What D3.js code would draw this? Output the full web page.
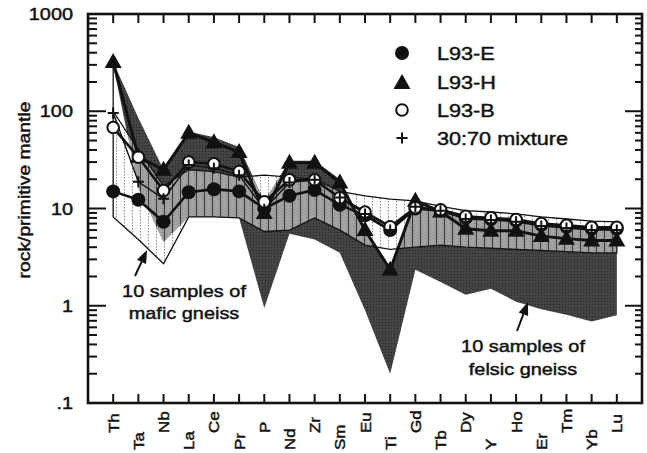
<!DOCTYPE html>
<html><head><meta charset="utf-8">
<script src="https://cdn.jsdelivr.net/npm/d3@7"></script>
<style>
body{margin:0;background:#fff}
svg{display:block}
text{font-family:"Liberation Sans",Arial,Helvetica,sans-serif;fill:#111;stroke:#111;stroke-width:0.45}
</style>
</head><body>
<svg id="c" width="647" height="453"></svg>
<script>
// ---------- data ----------
const categories = ["Th","Ta","Nb","La","Ce","Pr","P","Nd","Zr","Sm","Eu","Ti","Gd","Tb","Dy","Y","Ho","Er","Tm","Yb","Lu"];
const L93E    = [15, 12.3, 7.3, 14.7, 15.8, 15, 10, 13.5, 15.5, 10.9, 8.5, 6.0, 10, 9.5, 8.0, 7.8, 7.5, 6.8, 6.5, 6.2, 6.2];
const L93H    = [320, 34, 25, 60, 48, 38, 9, 29.5, 29.5, 18.5, 6.0, 2.35, 12, 9.3, 6.2, 5.9, 5.9, 5.2, 4.9, 4.7, 4.7];
const L93B    = [68, 33.7, 15.3, 30, 28.8, 24, 11.7, 19.7, 19.7, 12.9, 9.2, 6.5, 10.2, 9.7, 8.3, 8.0, 7.7, 7.0, 6.7, 6.4, 6.4];
const mixture = [96, 18.8, 12.6, 28, 26, 22, 9.8, 18.5, 19.7, 13.0, 8.8, 6.0, 10.4, 9.5, 7.8, 7.6, 7.3, 6.6, 6.3, 6.0, 6.0];
const felsicHi = [320, 85, 25, 62, 54, 43, 12, 31, 31, 20, 5.8, 2.35, 11, 9.5, 8.0, 7.8, 7.5, 6.8, 6.5, 6.2, 6.2];
const felsicLo = [300, 16, 4.5, 8.2, 8.2, 8.0, 0.95, 5.5, 4.8, 3.5, 0.9, 0.2, 2.35, 1.75, 1.3, 1.5, 1.1, 0.92, 0.81, 0.69, 0.8];
const maficHi  = [100, 40, 17, 25, 24, 21, 22, 21, 20, 15, 13.5, 12.5, 12, 10.5, 9.5, 9.2, 8.8, 8.2, 7.8, 7.4, 7.3];
const maficLo  = [8.2, 4.8, 2.7, 8.2, 8.2, 8.0, 5.8, 6.0, 8.0, 6.0, 4.2, 3.8, 4.0, 4.2, 4.0, 3.9, 3.8, 3.7, 3.6, 3.5, 3.5];
const yTickValues = [1000, 100, 10, 1, 0.1];
const yTickLabels = ["1000", "100", "10", "1", ".1"];
const legendLabels = ["L93-E", "L93-H", "L93-B", "30:70 mixture"];
const yTitle = "rock/primitive mantle";
const maficNote = ["10 samples of", "mafic gneiss"];
const felsicNote = ["10 samples of", "felsic gneiss"];

// ---------- setup ----------
const svg = d3.select("#c");
const L = 88, R = 642, T = 14, B = 403;
const x = d3.scalePoint().domain(categories).range([L, R]).padding(1);
const y = d3.scaleLog().domain([0.1, 1000]).range([B, T]);
const SX = 1.17;

svg.append("rect").attr("width", 647).attr("height", 453).attr("fill", "#fff");

const defs = svg.append("defs");
const pd = defs.append("pattern").attr("id", "dark").attr("patternUnits", "userSpaceOnUse").attr("width", 3).attr("height", 3);
pd.append("rect").attr("width", 3).attr("height", 3).attr("fill", "#444");
pd.append("rect").attr("x", 1).attr("y", 1).attr("width", 1).attr("height", 1).attr("fill", "#222");
const pg = defs.append("pattern").attr("id", "grey").attr("patternUnits", "userSpaceOnUse").attr("width", 8).attr("height", 3);
pg.append("rect").attr("width", 8).attr("height", 3).attr("fill", "#a3a3a3");
pg.append("rect").attr("x", 2).attr("y", 1).attr("width", 1).attr("height", 1).attr("fill", "#777");
pg.append("rect").attr("x", 6).attr("y", 2).attr("width", 1).attr("height", 1).attr("fill", "#888");
pg.append("line").attr("x1", 4.5).attr("x2", 4.5).attr("y1", 0).attr("y2", 3).attr("stroke", "#333").attr("stroke-width", 1);
const pw = defs.append("pattern").attr("id", "hatch").attr("patternUnits", "userSpaceOnUse").attr("width", 8).attr("height", 3);
pw.append("rect").attr("width", 8).attr("height", 3).attr("fill", "#fff");
pw.append("line").attr("x1", 4.5).attr("x2", 4.5).attr("y1", 0).attr("y2", 1.5).attr("stroke", "#888").attr("stroke-width", 1);

const idx = d3.range(categories.length);
const areaOf = (hi, lo) => d3.area().x(i => x(categories[i])).y0(i => y(lo[i])).y1(i => y(hi[i]));
const felsicPath = areaOf(felsicHi, felsicLo)(idx);
const maficPath = areaOf(maficHi, maficLo)(idx);
defs.append("clipPath").attr("id", "felsicClip").append("path").attr("d", felsicPath);

const g = svg.append("g");
g.append("path").attr("d", felsicPath).attr("fill", "url(#dark)");
g.append("path").attr("d", maficPath).attr("fill", "url(#hatch)");
g.append("path").attr("d", maficPath).attr("fill", "url(#grey)").attr("clip-path", "url(#felsicClip)");
g.append("path").attr("d", maficPath).attr("fill", "none").attr("stroke", "#111").attr("stroke-width", 1.3);
// vertical edge at Th from the L93-H point down to the mafic field top
g.append("line").attr("x1", x(categories[0])).attr("x2", x(categories[0]))
  .attr("y1", y(L93H[0])).attr("y2", y(maficHi[0])).attr("stroke", "#111").attr("stroke-width", 1.3);

// ---------- series lines ----------
const lineOf = d3.line().x(d => x(d.c)).y(d => y(d.v));
const pts = arr => arr.map((v, i) => ({c: categories[i], v}));
g.append("path").attr("d", lineOf(pts(mixture))).attr("fill", "none").attr("stroke", "#111").attr("stroke-width", 1.4);
g.append("path").attr("d", lineOf(pts(L93B))).attr("fill", "none").attr("stroke", "#111").attr("stroke-width", 2.6);
g.append("path").attr("d", lineOf(pts(L93E))).attr("fill", "none").attr("stroke", "#111").attr("stroke-width", 2.6);
g.append("path").attr("d", lineOf(pts(L93H))).attr("fill", "none").attr("stroke", "#111").attr("stroke-width", 3);

// ---------- markers ----------
const tri = (cx, cy) => `M${cx},${cy - 9}L${cx + 8.5},${cy + 6}L${cx - 8.5},${cy + 6}Z`;
function triangle(sel, cx, cy) { sel.append("path").attr("d", tri(cx, cy)).attr("fill", "#111"); }
function filled(sel, cx, cy) { sel.append("circle").attr("cx", cx).attr("cy", cy).attr("r", 7).attr("fill", "#111"); }
function open(sel, cx, cy) { sel.append("circle").attr("cx", cx).attr("cy", cy).attr("r", 5.8).attr("fill", "#fff").attr("stroke", "#111").attr("stroke-width", 2); }
function plus(sel, cx, cy) {
  sel.append("path").attr("d", `M${cx - 5.5},${cy}H${cx + 5.5}M${cx},${cy - 5.5}V${cy + 5.5}`).attr("stroke", "#111").attr("stroke-width", 2).attr("fill", "none");
}
const mk = svg.append("g");
L93H.forEach((v, i) => triangle(mk, x(categories[i]), y(v)));
L93E.forEach((v, i) => filled(mk, x(categories[i]), y(v)));
L93B.forEach((v, i) => open(mk, x(categories[i]), y(v)));
mixture.forEach((v, i) => plus(mk, x(categories[i]), y(v)));

// ---------- frame & ticks ----------
const ax = svg.append("g").attr("stroke", "#111").attr("fill", "none");
ax.append("rect").attr("x", L).attr("y", T).attr("width", R - L).attr("height", B - T).attr("stroke-width", 2.6);
categories.forEach(c => {
  ax.append("line").attr("x1", x(c)).attr("x2", x(c)).attr("y1", T).attr("y2", T + 9).attr("stroke-width", 2);
  ax.append("line").attr("x1", x(c)).attr("x2", x(c)).attr("y1", B).attr("y2", B - 9).attr("stroke-width", 2);
});
y.ticks().forEach(t => {
  const major = Math.abs(Math.log10(t) - Math.round(Math.log10(t))) < 1e-6;
  const yy = y(t);
  ax.append("line").attr("x1", L).attr("x2", L + (major ? 18 : 9)).attr("y1", yy).attr("y2", yy).attr("stroke-width", 2);
  ax.append("line").attr("x1", R).attr("x2", R - (major ? 17 : 7)).attr("y1", yy).attr("y2", yy).attr("stroke-width", 2);
});

// ---------- text helper ----------
function txt(s, px, py, size, anchor, rot, sx) {
  const gg = svg.append("g").attr("transform", `translate(${px},${py}) rotate(${rot || 0}) scale(${sx || SX},1)`);
  gg.append("text").attr("text-anchor", anchor || "start").attr("font-size", size).text(s);
}
yTickValues.forEach((v, i) => txt(yTickLabels[i], 73, y(v) + 6, 17, "end"));
categories.forEach((c, i) => {
  const bottom = i % 2 === 0 ? 433 : 450;
  txt(c, x(c) + 5.5, bottom, 15, "start", -90, 1.13);
});
txt(yTitle, 30, 190, 16.5, "middle", -90);

// ---------- legend ----------
const lg = svg.append("g");
const lx = 402, ly = [53, 82, 110, 138];
filled(lg, lx, ly[0]);
triangle(lg, lx, ly[1] + 1);
open(lg, lx, ly[2]);
plus(lg, lx, ly[3]);
legendLabels.forEach((s, i) => txt(s, 437, ly[i] + 7, 18.5, "start"));

// ---------- annotations ----------
maficNote.forEach((s, i) => txt(s, 184, 297 + i * 22, 17, "middle"));
felsicNote.forEach((s, i) => txt(s, 523, 352 + i * 23, 17, "middle"));
function arrow(x1, y1, x2, y2) {
  const a = Math.atan2(y2 - y1, x2 - x1), len = 13, w = 5;
  const bx = x2 - len * Math.cos(a), by = y2 - len * Math.sin(a);
  svg.append("line").attr("x1", x1).attr("y1", y1).attr("x2", bx).attr("y2", by).attr("stroke", "#111").attr("stroke-width", 2);
  svg.append("path").attr("d", `M${x2},${y2}L${bx + w * Math.sin(a)},${by - w * Math.cos(a)}L${bx - w * Math.sin(a)},${by + w * Math.cos(a)}Z`).attr("fill", "#111");
}
arrow(135, 276, 147, 250);
arrow(517, 331, 528, 302);
</script>
</body></html>
